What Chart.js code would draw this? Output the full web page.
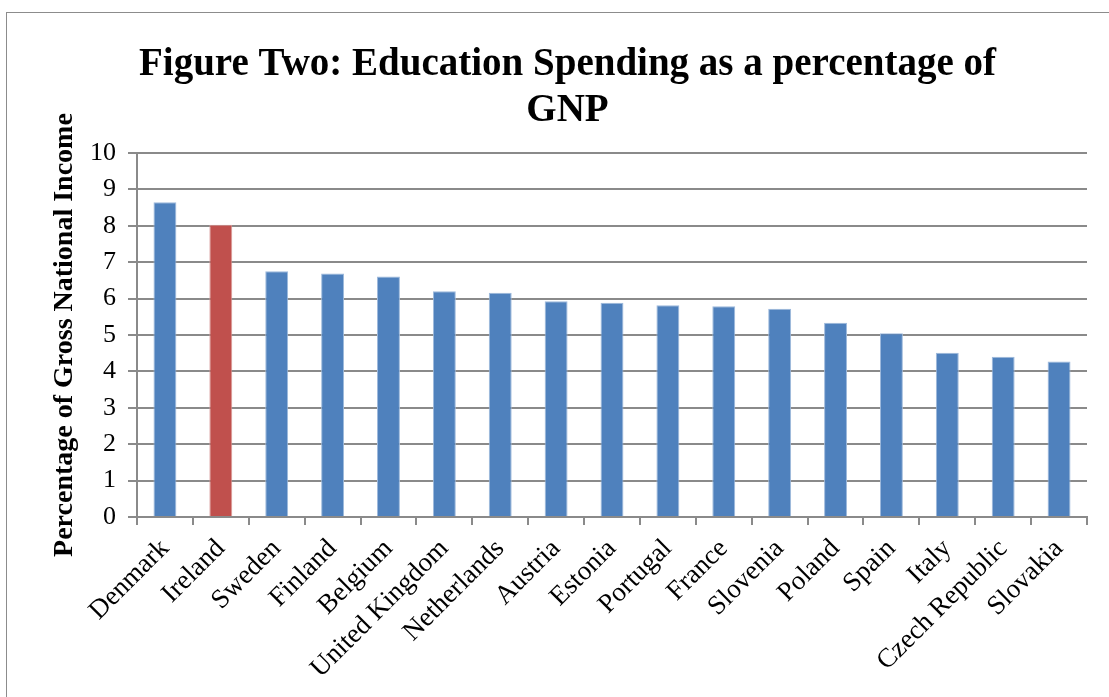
<!DOCTYPE html>
<html>
<head>
<meta charset="utf-8">
<script src="https://cdn.jsdelivr.net/npm/chart.js@4"></script>
<style>
  html, body { margin: 0; padding: 0; background: #ffffff; overflow: hidden; }
  #wrap { position: relative; width: 1109px; height: 697px; }
  #frame { position: absolute; left: 6px; top: 12px; width: 1120px; height: 700px; border: 1px solid #8c8c8c; box-sizing: border-box; pointer-events: none; }
  canvas { position: absolute; left: 0; top: 0; }
</style>
</head>
<body>
<div id="wrap">
  <canvas id="c" width="1109" height="697"></canvas>
  <div id="frame"></div>
</div>
<script>
const categories = ["Denmark", "Ireland", "Sweden", "Finland", "Belgium", "United Kingdom", "Netherlands", "Austria", "Estonia", "Portugal", "France", "Slovenia", "Poland", "Spain", "Italy", "Czech Republic", "Slovakia"];
const spending = [8.65, 8.03, 6.75, 6.69, 6.61, 6.2, 6.16, 5.93, 5.89, 5.82, 5.79, 5.72, 5.34, 5.05, 4.51, 4.4, 4.27];
const highlighted = "Ireland";
const titleLines = ["Figure Two: Education Spending as a percentage of", "GNP"];
const yAxisTitle = "Percentage of Gross National Income";

const serif = "'Liberation Serif', 'Times New Roman', serif";
const blue = "#4F81BD", red = "#C0504D";
const gridColor = "#8a8a8a";

new Chart(document.getElementById("c"), {
  type: "bar",
  data: {
    labels: categories,
    datasets: [{
      data: spending,
      backgroundColor: categories.map(c => c === highlighted ? red : blue),
      borderColor: categories.map(c => c === highlighted ? "#d89a98" : "#9db9dc"),
      borderWidth: 1,
      borderSkipped: "bottom",
      categoryPercentage: 1.0,
      barPercentage: 0.41
    }]
  },
  options: {
    responsive: false,
    animation: false,
    devicePixelRatio: 1,
    layout: { padding: { left: 48, right: 22, top: 42, bottom: 0 } },
    plugins: {
      legend: { display: false },
      tooltip: { enabled: false },
      title: {
        display: true,
        text: titleLines,
        color: "#000",
        font: { family: serif, size: 39, weight: "bold", lineHeight: 1.18 },
        padding: { top: 0, bottom: 19 }
      }
    },
    scales: {
      x: {
        grid: { display: true, drawOnChartArea: false, drawTicks: true, tickLength: 8, color: gridColor, lineWidth: 2, offset: true },
        border: { display: true, color: gridColor, width: 2 },
        ticks: { color: "#000", font: { family: serif, size: 27 }, maxRotation: 45, minRotation: 45, padding: 8, autoSkip: false },
        afterFit: s => { s.height = 180; }
      },
      y: {
        min: 0, max: 10,
        ticks: { stepSize: 1, color: "#000", font: { family: serif, size: 26 }, padding: 12 },
        grid: { color: gridColor, lineWidth: 2, tickLength: 9, drawTicks: true },
        border: { display: true, color: gridColor, width: 2 },
        title: { display: true, text: yAxisTitle, color: "#000", font: { family: serif, size: 28, weight: "bold" }, padding: { top: 0, bottom: 6 } },
        afterFit: s => { s.width = 89; }
      }
    }
  }
});
</script>
</body>
</html>
